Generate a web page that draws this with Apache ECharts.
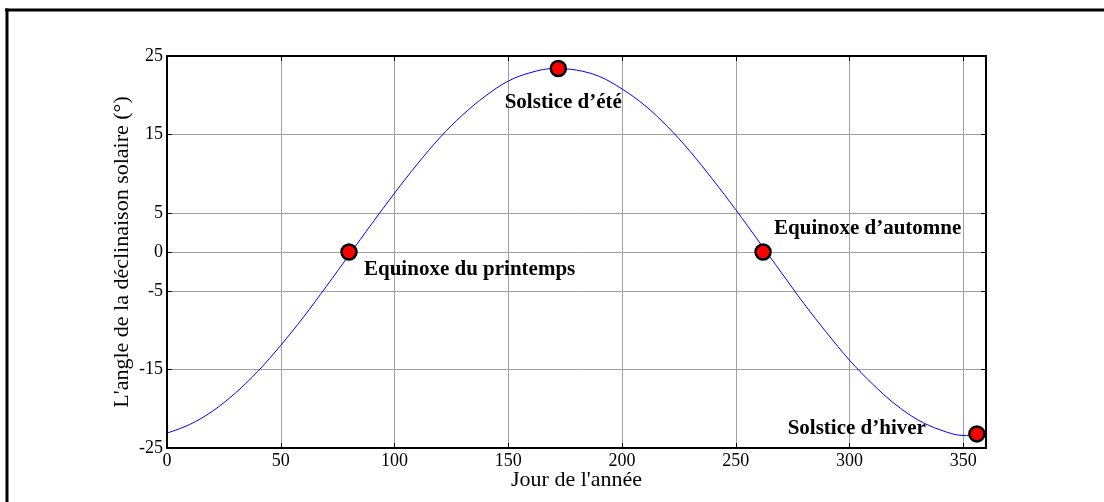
<!DOCTYPE html>
<html>
<head>
<meta charset="utf-8">
<script src="https://cdn.jsdelivr.net/npm/echarts@6/dist/echarts.min.js"></script>
<style>
html,body{margin:0;padding:0;background:#fff;}
#chart{width:1104px;height:502px;}
</style>
</head>
<body>
<div id="chart"></div>
<script>
// Day of year and solar declination (degrees)
const days = [0,10,20,30,40,50,60,70,80,90,100,110,120,130,140,150,160,170,180,190,200,210,220,230,240,250,260,270,280,290,300,310,320,330,340,350,360];
const declination = [-23.1,-22.0,-20.3,-18.0,-15.2,-11.9,-8.3,-4.4,-0.4,3.6,7.5,11.2,14.6,17.5,19.9,21.8,22.9,23.4,23.2,22.4,20.8,18.7,16.0,12.8,9.2,5.4,1.4,-2.6,-6.6,-10.3,-13.8,-16.8,-19.4,-21.4,-22.7,-23.4,-23.3];
// Marked events
const eventNames = ['Equinoxe du printemps','Solstice d\u2019été','Equinoxe d\u2019automne','Solstice d\u2019hiver'];
const eventDays = [80,172,262,356];
const eventValues = [0,23.4,0,-23.2];
// Tick labels
const xTicks = [0,50,100,150,200,250,300,350];
const yTicks = [-25,-15,-5,0,5,15,25];

const serif = '"Liberation Serif","Times New Roman",serif';
const labelStyles = [
  {align:'left', offset:[15,18]},
  {align:'center', offset:[5,34]},
  {align:'left', offset:[11,-23]},
  {align:'right', offset:[-51,-5]}
];

const chart = echarts.init(document.getElementById('chart'));
const axisLine = {show:true, onZero:false, lineStyle:{color:'#000', width:2}};
const tick = {show:true, inside:true, length:5, lineStyle:{color:'#000', width:1}};
chart.setOption({
  animation:false,
  backgroundColor:'#fff',
  grid:{left:167, right:118, top:56, bottom:54, containLabel:false},
  xAxis:[{
    type:'value', min:0, max:360, position:'bottom',
    name:'Jour de l\'année', nameLocation:'middle', nameGap:21, nameMoveOverlap:false,
    nameTextStyle:{fontFamily:serif, fontSize:22, color:'#000'},
    axisLine:axisLine,
    axisTick:Object.assign({customValues:xTicks}, tick),
    axisLabel:{customValues:xTicks, fontFamily:serif, fontSize:18, color:'#000', margin:4},
    splitLine:{show:true, lineStyle:{color:'#a0a0a0', width:1}}
  },{
    type:'value', min:0, max:360, position:'top',
    axisLine:axisLine,
    axisTick:Object.assign({customValues:xTicks}, tick),
    axisLabel:{show:false}, splitLine:{show:false}
  }],
  yAxis:[{
    type:'value', min:-25, max:25, position:'left',
    name:'L\'angle de la déclinaison solaire (°)', nameLocation:'middle', nameGap:34, nameMoveOverlap:false,
    nameTextStyle:{fontFamily:serif, fontSize:22, color:'#000'},
    axisLine:axisLine,
    axisTick:Object.assign({customValues:yTicks}, tick),
    axisLabel:{customValues:yTicks, fontFamily:serif, fontSize:18, color:'#000', margin:4},
    splitLine:{show:true, lineStyle:{color:'#a0a0a0', width:1}}
  },{
    type:'value', min:-25, max:25, position:'right',
    axisLine:axisLine,
    axisTick:Object.assign({customValues:yTicks}, tick),
    axisLabel:{show:false}, splitLine:{show:false}
  }],
  series:[{
    type:'line', xAxisIndex:0, yAxisIndex:0,
    data:days.map((d,i)=>[d,declination[i]]),
    smooth:0.35, showSymbol:false, symbol:'none',
    lineStyle:{color:'#0000ff', width:1}, z:2
  },{
    type:'scatter', xAxisIndex:0, yAxisIndex:0,
    symbolSize:15,
    itemStyle:{color:'#ff0000', borderColor:'#000', borderWidth:2.5, opacity:1},
    data:eventDays.map((d,i)=>({
      value:[d,eventValues[i]],
      label:{show:true, position:'inside', formatter:eventNames[i],
        align:labelStyles[i].align, verticalAlign:'middle', offset:labelStyles[i].offset,
        fontFamily:serif, fontSize:21, fontWeight:'bold', color:'#000', opacity:1,
        textBorderWidth:0, textBorderColor:'transparent'}
    })),
    z:5
  }],
  graphic:[
    {type:'line', shape:{x1:5, y1:10, x2:1104, y2:10}, style:{stroke:'#000', lineWidth:3}, silent:true},
    {type:'line', shape:{x1:7, y1:8.5, x2:7, y2:502}, style:{stroke:'#000', lineWidth:3}, silent:true}
  ]
});
</script>
</body>
</html>
